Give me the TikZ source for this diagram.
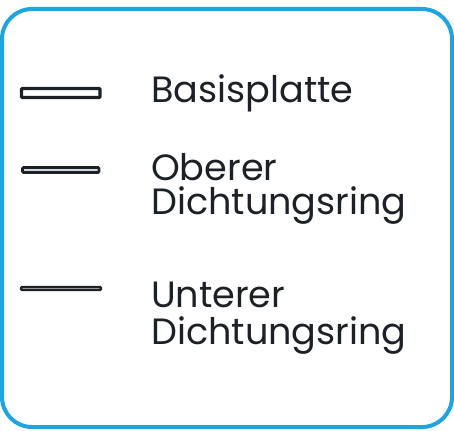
\documentclass[tikz,border=0pt]{standalone}
\usepackage{fontspec}
\setmainfont{Poppins}
\definecolor{rahmenblau}{HTML}{1EA5E0}
\definecolor{dunkel}{HTML}{1B2127}
\definecolor{hellgrau}{HTML}{D4D7DA}
\begin{document}
\begin{tikzpicture}[x = 1pt, y = -1pt,
        every node/.style = {font = {\fontsize{36.6}{40}\selectfont}, text = dunkel, anchor = base west, inner sep = 0pt},
        symbol/.style = {draw = dunkel, rounded corners = 1pt}]
        \useasboundingbox (0,0) rectangle (454,430);
        \draw[rahmenblau, line width = 4pt, rounded corners = 30pt] (2,9) rectangle (452,427);

        \draw[symbol, line width = 3.2pt, fill = white] (21.5,88.5) rectangle (100,97.5);
        \draw[symbol, line width = 2.6pt, fill = hellgrau] (22.5,167.5) rectangle (99,172.5);
        \draw[symbol, line width = 2.4pt, fill = hellgrau] (21,287) rectangle (101,290);

        \node (basis) at (151,103) {Basisplatte};
        \node (oben1) at (151,181) {Oberer};
        \node (oben2) at (151,214) {Dichtungsring};
        \node (unten1) at (151,307) {Unterer};
        \node (unten2) at (151,344) {Dichtungsring};
    \end{tikzpicture}
\end{document}
